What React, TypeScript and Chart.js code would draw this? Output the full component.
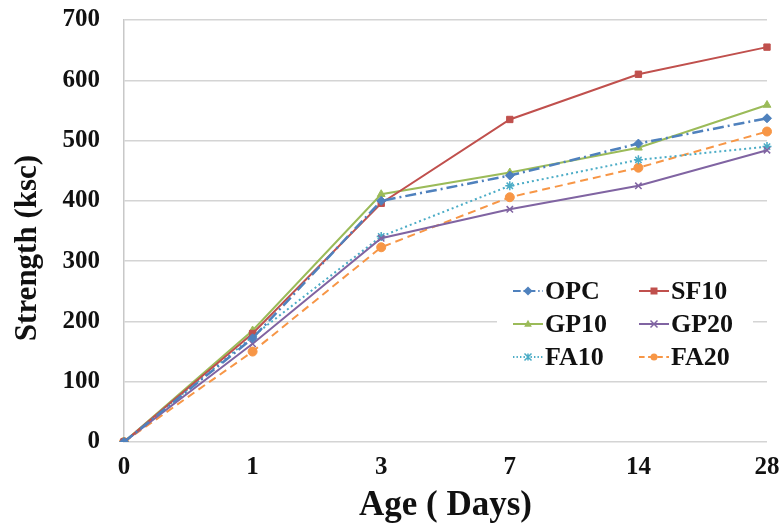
import React, { useEffect, useRef } from "react";
import { Chart, registerables } from "chart.js";

Chart.register(...registerables);

const ages = ["0", "1", "3", "7", "14", "28"];
const opc = [0, 172, 400, 442, 495, 537];
const sf10 = [0, 180, 396, 535, 610, 655];
const gp10 = [0, 185, 411, 447, 488, 559];
const gp20 = [0, 163, 338, 386, 425, 484];
const fa10 = [0, 175, 341, 425, 468, 490];
const fa20 = [0, 150, 323, 406, 455, 515];
const yTicks = [0, 100, 200, 300, 400, 500, 600, 700];
const yTitle = "Strength (ksc)";
const xTitle = "Age ( Days)";

const FONT = "'Liberation Serif', 'Times New Roman', serif";

const series = [
  { label: "OPC", data: opc, color: "#4F81BD", dash: [11, 4, 2, 4], point: "rectRot", width: 2.5 },
  { label: "SF10", data: sf10, color: "#C0504D", dash: [], point: "rect", width: 2 },
  { label: "GP10", data: gp10, color: "#9BBB59", dash: [], point: "triangle", width: 2 },
  { label: "GP20", data: gp20, color: "#8064A2", dash: [], point: "crossRot", width: 2 },
  { label: "FA10", data: fa10, color: "#4BACC6", dash: [2, 3], point: "star", width: 2 },
  { label: "FA20", data: fa20, color: "#F79646", dash: [8, 5], point: "circle", width: 2 },
];

function drawPoint(ctx: CanvasRenderingContext2D, style: string, r: number, x: number, y: number, color: string) {
  ctx.fillStyle = color;
  ctx.strokeStyle = color;
  ctx.lineWidth = 1.5;
  ctx.beginPath();
  switch (style) {
    case "rectRot":
      ctx.moveTo(x, y - r * 1.3);
      ctx.lineTo(x + r * 1.3, y);
      ctx.lineTo(x, y + r * 1.3);
      ctx.lineTo(x - r * 1.3, y);
      ctx.closePath();
      ctx.fill();
      break;
    case "rect":
      ctx.rect(x - r, y - r, r * 2, r * 2);
      ctx.fill();
      break;
    case "triangle":
      ctx.moveTo(x, y - r * 1.2);
      ctx.lineTo(x + r * 1.1, y + r * 0.8);
      ctx.lineTo(x - r * 1.1, y + r * 0.8);
      ctx.closePath();
      ctx.fill();
      break;
    case "crossRot":
      ctx.moveTo(x - r, y - r);
      ctx.lineTo(x + r, y + r);
      ctx.moveTo(x + r, y - r);
      ctx.lineTo(x - r, y + r);
      ctx.stroke();
      break;
    case "star":
      ctx.moveTo(x - r, y - r);
      ctx.lineTo(x + r, y + r);
      ctx.moveTo(x + r, y - r);
      ctx.lineTo(x - r, y + r);
      ctx.moveTo(x, y - r);
      ctx.lineTo(x, y + r);
      ctx.stroke();
      break;
    default:
      ctx.arc(x, y, r, 0, Math.PI * 2);
      ctx.fill();
  }
}

const legendPlugin = {
  id: "insideLegend",
  afterDatasetsDraw(chart: any) {
    const ctx = chart.ctx;
    ctx.save();
    ctx.fillStyle = "#ffffff";
    ctx.fillRect(497, 274, 256, 99);
    const cols = [{ lx: 513, tx: 545 }, { lx: 639, tx: 671 }];
    const rows = [291, 324, 357];
    series.forEach((s, i) => {
      const c = cols[i % 2];
      const y = rows[Math.floor(i / 2)];
      ctx.strokeStyle = s.color;
      ctx.lineWidth = 2;
      ctx.setLineDash(s.dash.length ? s.dash.map((d) => Math.max(1, d * 0.7)) : []);
      ctx.beginPath();
      ctx.moveTo(c.lx, y);
      ctx.lineTo(c.lx + 30, y);
      ctx.stroke();
      ctx.setLineDash([]);
      drawPoint(ctx, s.point, 3.5, c.lx + 15, y, s.color);
      ctx.fillStyle = "#111111";
      ctx.font = `bold 26px ${FONT}`;
      ctx.textBaseline = "middle";
      ctx.textAlign = "left";
      ctx.fillText(s.label, c.tx, y + 1);
    });
    ctx.restore();
  },
};

const yTitlePlugin = {
  id: "yTitleDraw",
  afterDraw(chart: any) {
    const ctx = chart.ctx;
    ctx.save();
    ctx.translate(28, 248);
    ctx.rotate(-Math.PI / 2);
    ctx.fillStyle = "#111111";
    ctx.font = `bold 31px ${FONT}`;
    ctx.textAlign = "center";
    ctx.textBaseline = "middle";
    ctx.fillText(yTitle, 0, 0);
    ctx.restore();
  },
};

export default function App() {
  const ref = useRef<HTMLCanvasElement | null>(null);
  useEffect(() => {
    if (!ref.current) return;
    const chart = new Chart(ref.current, {
      type: "line",
      data: {
        labels: ages,
        datasets: series.map((s) => ({
          label: s.label,
          data: s.data,
          borderColor: s.color,
          backgroundColor: s.color,
          borderDash: s.dash,
          borderWidth: s.width,
          pointStyle: s.point as any,
          pointRadius: 4.5,
          pointBorderWidth: s.point === "crossRot" || s.point === "star" ? 1.5 : 1,
          pointBorderColor: s.color,
          pointBackgroundColor: s.color,
          fill: false,
          tension: 0,
        })),
      },
      options: {
        responsive: false,
        animation: false,
        layout: { padding: { top: 20, right: 14, left: 0, bottom: 0 } },
        plugins: { legend: { display: false }, tooltip: { enabled: false } },
        scales: {
          x: {
            type: "category",
            offset: false,
            grid: { display: false, drawTicks: false },
            border: { display: false },
            ticks: {
              color: "#111",
              padding: 11,
              font: { family: FONT, size: 25, weight: "bold" },
              maxRotation: 0,
              autoSkip: false,
            },
            title: {
              display: true,
              text: xTitle,
              color: "#111",
              font: { family: FONT, size: 35, weight: "bold" },
              padding: { top: 0, bottom: 2 },
            },
            afterFit: (scale: any) => {
              scale.height = 87;
              scale.paddingLeft = 0;
              scale.paddingRight = 0;
            },
          },
          y: {
            min: 0,
            max: 700,
            afterBuildTicks: (scale: any) => {
              scale.ticks = yTicks.map((v) => ({ value: v }));
            },
            grid: { color: "#d4d4d4", lineWidth: 1.5, drawTicks: false },
            border: { display: true, color: "#c8c8c8", width: 1.5 },
            ticks: {
              color: "#111",
              padding: 24,
              font: { family: FONT, size: 25, weight: "bold" },
            },
            title: { display: false },
            afterFit: (scale: any) => {
              scale.width = 124;
              scale.paddingTop = 0;
              scale.paddingBottom = 0;
            },
          },
        },
      },
      plugins: [legendPlugin, yTitlePlugin],
    });
    return () => chart.destroy();
  }, []);
  return (
    <div style={{ position: "fixed", left: 0, top: 0, width: 781, height: 529, background: "#fff" }}>
      <canvas ref={ref} width={781} height={529} style={{ display: "block" }} />
    </div>
  );
}
